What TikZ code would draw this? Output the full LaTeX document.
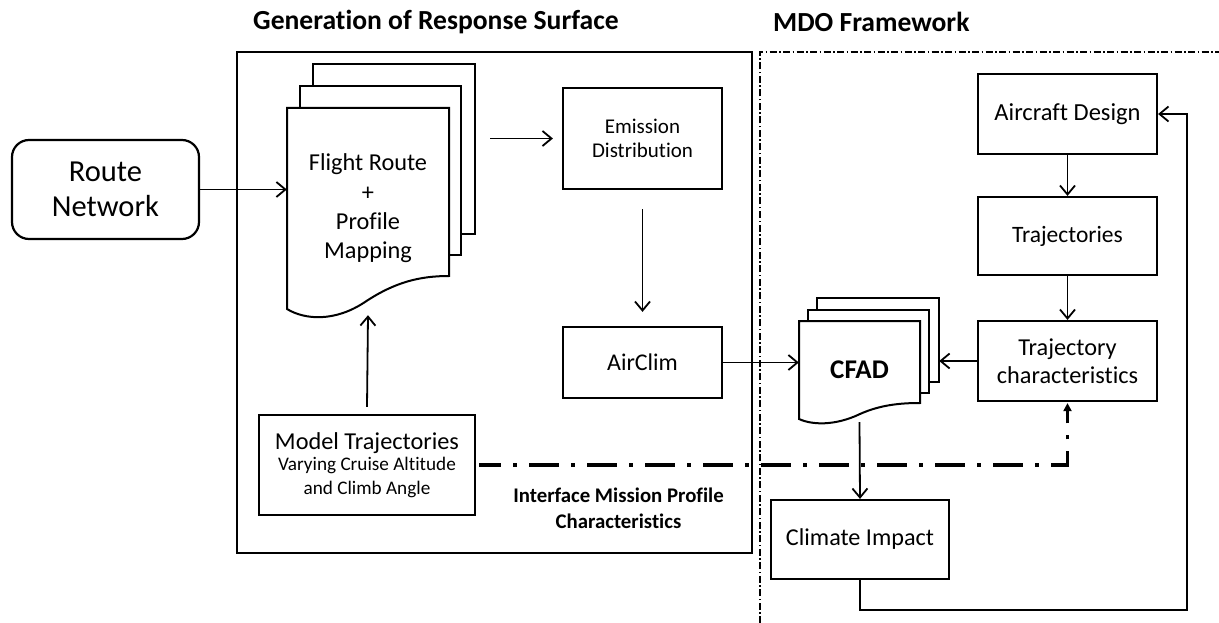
\documentclass[tikz,border=0pt]{standalone}
\usepackage{fontspec}
\setmainfont{Carlito}[Ligatures={NoCommon}]
\usetikzlibrary{arrows.meta,calc}
\begin{document}
\begin{tikzpicture}[x=1pt,y=-1pt,
  box/.style={draw,line width=2.2pt,rectangle,inner sep=0pt,align=center},
  docnode/.style={rectangle,inner sep=0pt,align=center},
  page/.style={draw,line width=2pt,fill=white},
  arr/.style={line width=1.8pt,-{Straight Barb[length=9pt,width=15pt,line width=1.8pt]}},
  dd/.style={line width=3.2pt,dash pattern=on 30pt off 12pt on 4pt off 12pt,dash phase=8pt},
  thindd/.style={line width=1.5pt,dash pattern=on 7pt off 2.5pt on 1.5pt off 2.5pt},
  ttl/.style={font=\fontsize{27.6}{32}\selectfont\bfseries,anchor=west,inner sep=0pt}]
\useasboundingbox (0,0) rectangle (1219,623);

% titles
\node[ttl] (t1) at (253,22) {Generation of Response Surface};
\node[ttl] (t2) at (773,22) {MDO Framework};

% frames
\draw[line width=2.4pt] (237,52) rectangle (752,553);
\draw[thindd] (760,623) -- (760,52) -- (1219,52);

% Route network
\node[draw,line width=2.2pt,rounded corners=17pt,minimum width=187pt,minimum height=99pt,align=center,
  font=\fontsize{30.5}{35}\selectfont] (route) at (105.5,189.5) {Route\\Network};

% Flight route document stack
\draw[page] (313,64) rectangle (475,234);
\draw[page] (300,86) rectangle (461,255);
\draw[page] (287,108) -- (449,108) -- (449,276)
  .. controls (420,276) and (395,282) .. (365,302)
  .. controls (335,322) and (305,320) .. (287,309) -- cycle;
\node[docnode,minimum width=162pt,minimum height=201pt,font=\fontsize{24.3}{29.3}\selectfont]
  (flight) at (368,208.5) {Flight Route\\+\\Profile\\Mapping};

% Emission, AirClim
\node[box,minimum width=159pt,minimum height=101pt,font=\fontsize{21}{24.5}\selectfont]
  (emis) at (642.5,138.5) {Emission\\Distribution};
\node[box,minimum width=159pt,minimum height=71pt,font=\fontsize{24}{28}\selectfont]
  (airclim) at (642.5,362.5) {AirClim};

% Model trajectories
\node[box,minimum width=216pt,minimum height=100pt,font=\fontsize{19.2}{23.5}\selectfont]
  (model) at (367,465) {\fontsize{24.3}{27}\selectfont Model Trajectories\\[-2pt]Varying Cruise Altitude\\and Climb Angle};

\node[align=center,inner sep=0pt,font=\fontsize{20.8}{26}\selectfont\bfseries]
  (iface) at (618.5,508) {Interface Mission Profile\\Characteristics};

% MDO side
\node[box,minimum width=179pt,minimum height=80pt,font=\fontsize{24.5}{28}\selectfont]
  (acd) at (1067.5,114) {Aircraft Design};
\node[box,minimum width=179pt,minimum height=78pt,font=\fontsize{23.5}{28}\selectfont]
  (traj) at (1067.5,236) {Trajectories};
\node[box,minimum width=179pt,minimum height=80pt,font=\fontsize{24.3}{28}\selectfont]
  (tchar) at (1067.5,361) {Trajectory\\characteristics};
\node[box,minimum width=178pt,minimum height=79pt,font=\fontsize{24.2}{28}\selectfont]
  (climate) at (860,539.5) {Climate Impact};

% CFAD stack
\draw[page] (817,298) rectangle (939,382);
\draw[page] (808,310) rectangle (929,393);
\draw[page] (799,321) -- (920,321) -- (920,403)
  .. controls (900,403) and (880,405) .. (860,414)
  .. controls (835,426) and (812,425) .. (799,419) -- cycle;
\node[docnode,minimum width=121pt,minimum height=98pt,font=\fontsize{27}{30}\selectfont\bfseries]
  (cfad) at (859.5,370) {CFAD};

% connectors
\draw[arr] (route.east) -- (route.east -| flight.west);
\draw[arr,shorten <=41pt,shorten >=9pt] (flight.east |- emis.west) -- (emis.west);
\draw[arr,shorten <=19pt,shorten >=14pt] (emis.south) -- (airclim.north);
\draw[arr] ([yshift=7pt]model.north) -- ([yshift=-6pt]flight.south);
\draw[arr] (airclim.east) -- (airclim.east -| cfad.west);
\draw[arr,shorten >=19pt] (tchar.west) -- (tchar.west -| cfad.east);
\draw[arr] (acd.south) -- (traj.north);
\draw[arr] (traj.south) -- (tchar.north);
\draw[arr] ([yshift=-3pt]cfad.south) -- (climate.north);
\coordinate (fb) at (1187,610);
\draw[arr] (climate.south) |- (fb) |- (acd.east);
\draw[dd,shorten <=3pt,shorten >=1pt,-{Triangle[length=8pt,width=8pt]}] (model.east) -| (tchar.south);
\end{tikzpicture}
\end{document}
